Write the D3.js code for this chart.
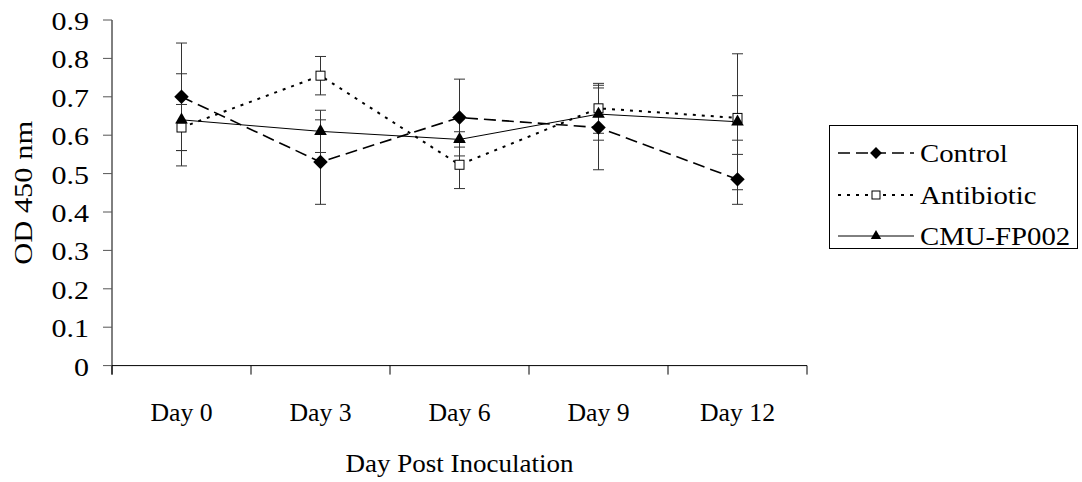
<!DOCTYPE html>
<html>
<head>
<meta charset="utf-8">
<script src="https://cdn.jsdelivr.net/npm/d3@7"></script>
<style>
  body { margin: 0; background: #fff; }
</style>
</head>
<body>
<div id="chart"></div>
<script>
const days = ["Day 0", "Day 3", "Day 6", "Day 9", "Day 12"];
const yTicks = [0, 0.1, 0.2, 0.3, 0.4, 0.5, 0.6, 0.7, 0.8, 0.9];

const control = [0.70, 0.53, 0.646, 0.62, 0.485];
const controlErr = [0.14, 0.11, 0.10, 0.11, 0.065];
const antibiotic = [0.62, 0.755, 0.523, 0.67, 0.645];
const antibioticErr = [0.06, 0.05, 0.062, 0.065, 0.058];
const cmu = [0.64, 0.61, 0.589, 0.655, 0.635];
const cmuErr = [0.12, 0.055, 0.02, 0.068, 0.177];

const seriesNames = ["Control", "Antibiotic", "CMU-FP002"];

const width = 1082, height = 482;
const fontFamily = "'Liberation Serif', 'Times New Roman', serif";
const fontSize = 25;

const series = [
    { name: seriesNames[0], values: control, err: controlErr, dash: "12,6", lw: 1.6, marker: "diamond" },
    { name: seriesNames[1], values: antibiotic, err: antibioticErr, dash: "3,6", lw: 2, marker: "square" },
    { name: seriesNames[2], values: cmu, err: cmuErr, dash: null, lw: 1, marker: "triangle" },
];

const svg = d3.select("#chart")
    .append("svg")
    .attr("width", width)
    .attr("height", height);

const x = d3.scaleBand().domain(days).range([112, 807]);
const y = d3.scaleLinear().domain([0, 0.9]).range([365.6, 20]);

// the original text is a bit wide, so labels get stretched along their own direction
function label(parent, px, py, text, anchor, stretch, angle) {
    parent.append("g")
        .attr("transform", `translate(${px},${py}) rotate(${angle || 0}) scale(${stretch},1)`)
        .append("text")
        .attr("text-anchor", anchor)
        .attr("font-family", fontFamily)
        .attr("font-size", fontSize)
        .attr("fill", "#000")
        .text(text);
}

// axes
svg.append("line")
    .attr("x1", x.range()[0]).attr("x2", x.range()[0])
    .attr("y1", y(0.9)).attr("y2", y(0) + 9)
    .attr("stroke", "#000");
svg.append("line")
    .attr("x1", x.range()[0]).attr("x2", x.range()[1])
    .attr("y1", y(0)).attr("y2", y(0))
    .attr("stroke", "#000");

yTicks.forEach(t => {
    svg.append("line")
        .attr("x1", x.range()[0] - 9).attr("x2", x.range()[0])
        .attr("y1", y(t)).attr("y2", y(t))
        .attr("stroke", "#555");
    label(svg, 89, y(t) + 10, t === 0 ? "0" : t.toFixed(1), "end", 1.2);
});

const xTicks = days.map(d => x(d)).concat([x.range()[1]]);
xTicks.forEach(p => {
    svg.append("line")
        .attr("x1", p).attr("x2", p)
        .attr("y1", y(0)).attr("y2", y(0) + 9)
        .attr("stroke", "#000");
});
days.forEach(d => label(svg, x(d) + x.bandwidth() / 2, 421, d, "middle", 1.03));

label(svg, (x.range()[0] + x.range()[1]) / 2, 472, "Day Post Inoculation", "middle", 1.08);
label(svg, 32, (y(0) + y(0.9)) / 2, "OD 450 nm", "middle", 1.22, -90);

const cx = d => x(d) + x.bandwidth() / 2;

function drawMarker(sel, type, size) {
    if (type === "square") {
        sel.append("rect")
            .attr("x", -size / 2).attr("y", -size / 2)
            .attr("width", size).attr("height", size)
            .attr("fill", "#fff").attr("stroke", "#000");
    } else {
        const sym = type === "diamond" ? d3.symbolDiamond2 : d3.symbolTriangle2;
        const area = type === "diamond" ? size * size * 0.5 : size * size * 0.43;
        sel.append("path")
            .attr("d", d3.symbol(sym, area * 2.2)())
            .attr("fill", "#000");
    }
}

// error bars
series.forEach(s => {
    const g = svg.append("g").attr("stroke", "#333").attr("stroke-width", 1);
    days.forEach((d, i) => {
        const top = y(s.values[i] + s.err[i]);
        const bot = y(s.values[i] - s.err[i]);
        g.append("line").attr("x1", cx(d)).attr("x2", cx(d)).attr("y1", top).attr("y2", bot);
        g.append("line").attr("x1", cx(d) - 5.5).attr("x2", cx(d) + 5.5).attr("y1", top).attr("y2", top);
        g.append("line").attr("x1", cx(d) - 5.5).attr("x2", cx(d) + 5.5).attr("y1", bot).attr("y2", bot);
    });
});

// lines
const line = d3.line().x((v, i) => cx(days[i])).y(v => y(v));
series.forEach(s => {
    svg.append("path")
        .attr("d", line(s.values))
        .attr("fill", "none")
        .attr("stroke", "#000")
        .attr("stroke-width", s.lw)
        .attr("stroke-dasharray", s.dash);
});

// markers
series.forEach(s => {
    s.values.forEach((v, i) => {
        const g = svg.append("g").attr("transform", `translate(${cx(days[i])},${y(v)})`);
        drawMarker(g, s.marker, s.marker === "square" ? 9 : 11);
    });
});

// legend
const legend = svg.append("g");
legend.append("rect")
    .attr("x", 829.5).attr("y", 125.5)
    .attr("width", 248).attr("height", 123)
    .attr("fill", "#fff").attr("stroke", "#000");

const legendY = [153, 195, 236];
series.forEach((s, i) => {
    legend.append("line")
        .attr("x1", 838).attr("x2", 914)
        .attr("y1", legendY[i]).attr("y2", legendY[i])
        .attr("stroke", "#000")
        .attr("stroke-width", s.lw)
        .attr("stroke-dasharray", s.dash);
    const g = legend.append("g").attr("transform", `translate(876,${legendY[i]})`);
    drawMarker(g, s.marker, s.marker === "square" ? 8 : 9);
    label(legend, 920, legendY[i] + 9, s.name, "start", 1.15);
});
</script>
</body>
</html>
